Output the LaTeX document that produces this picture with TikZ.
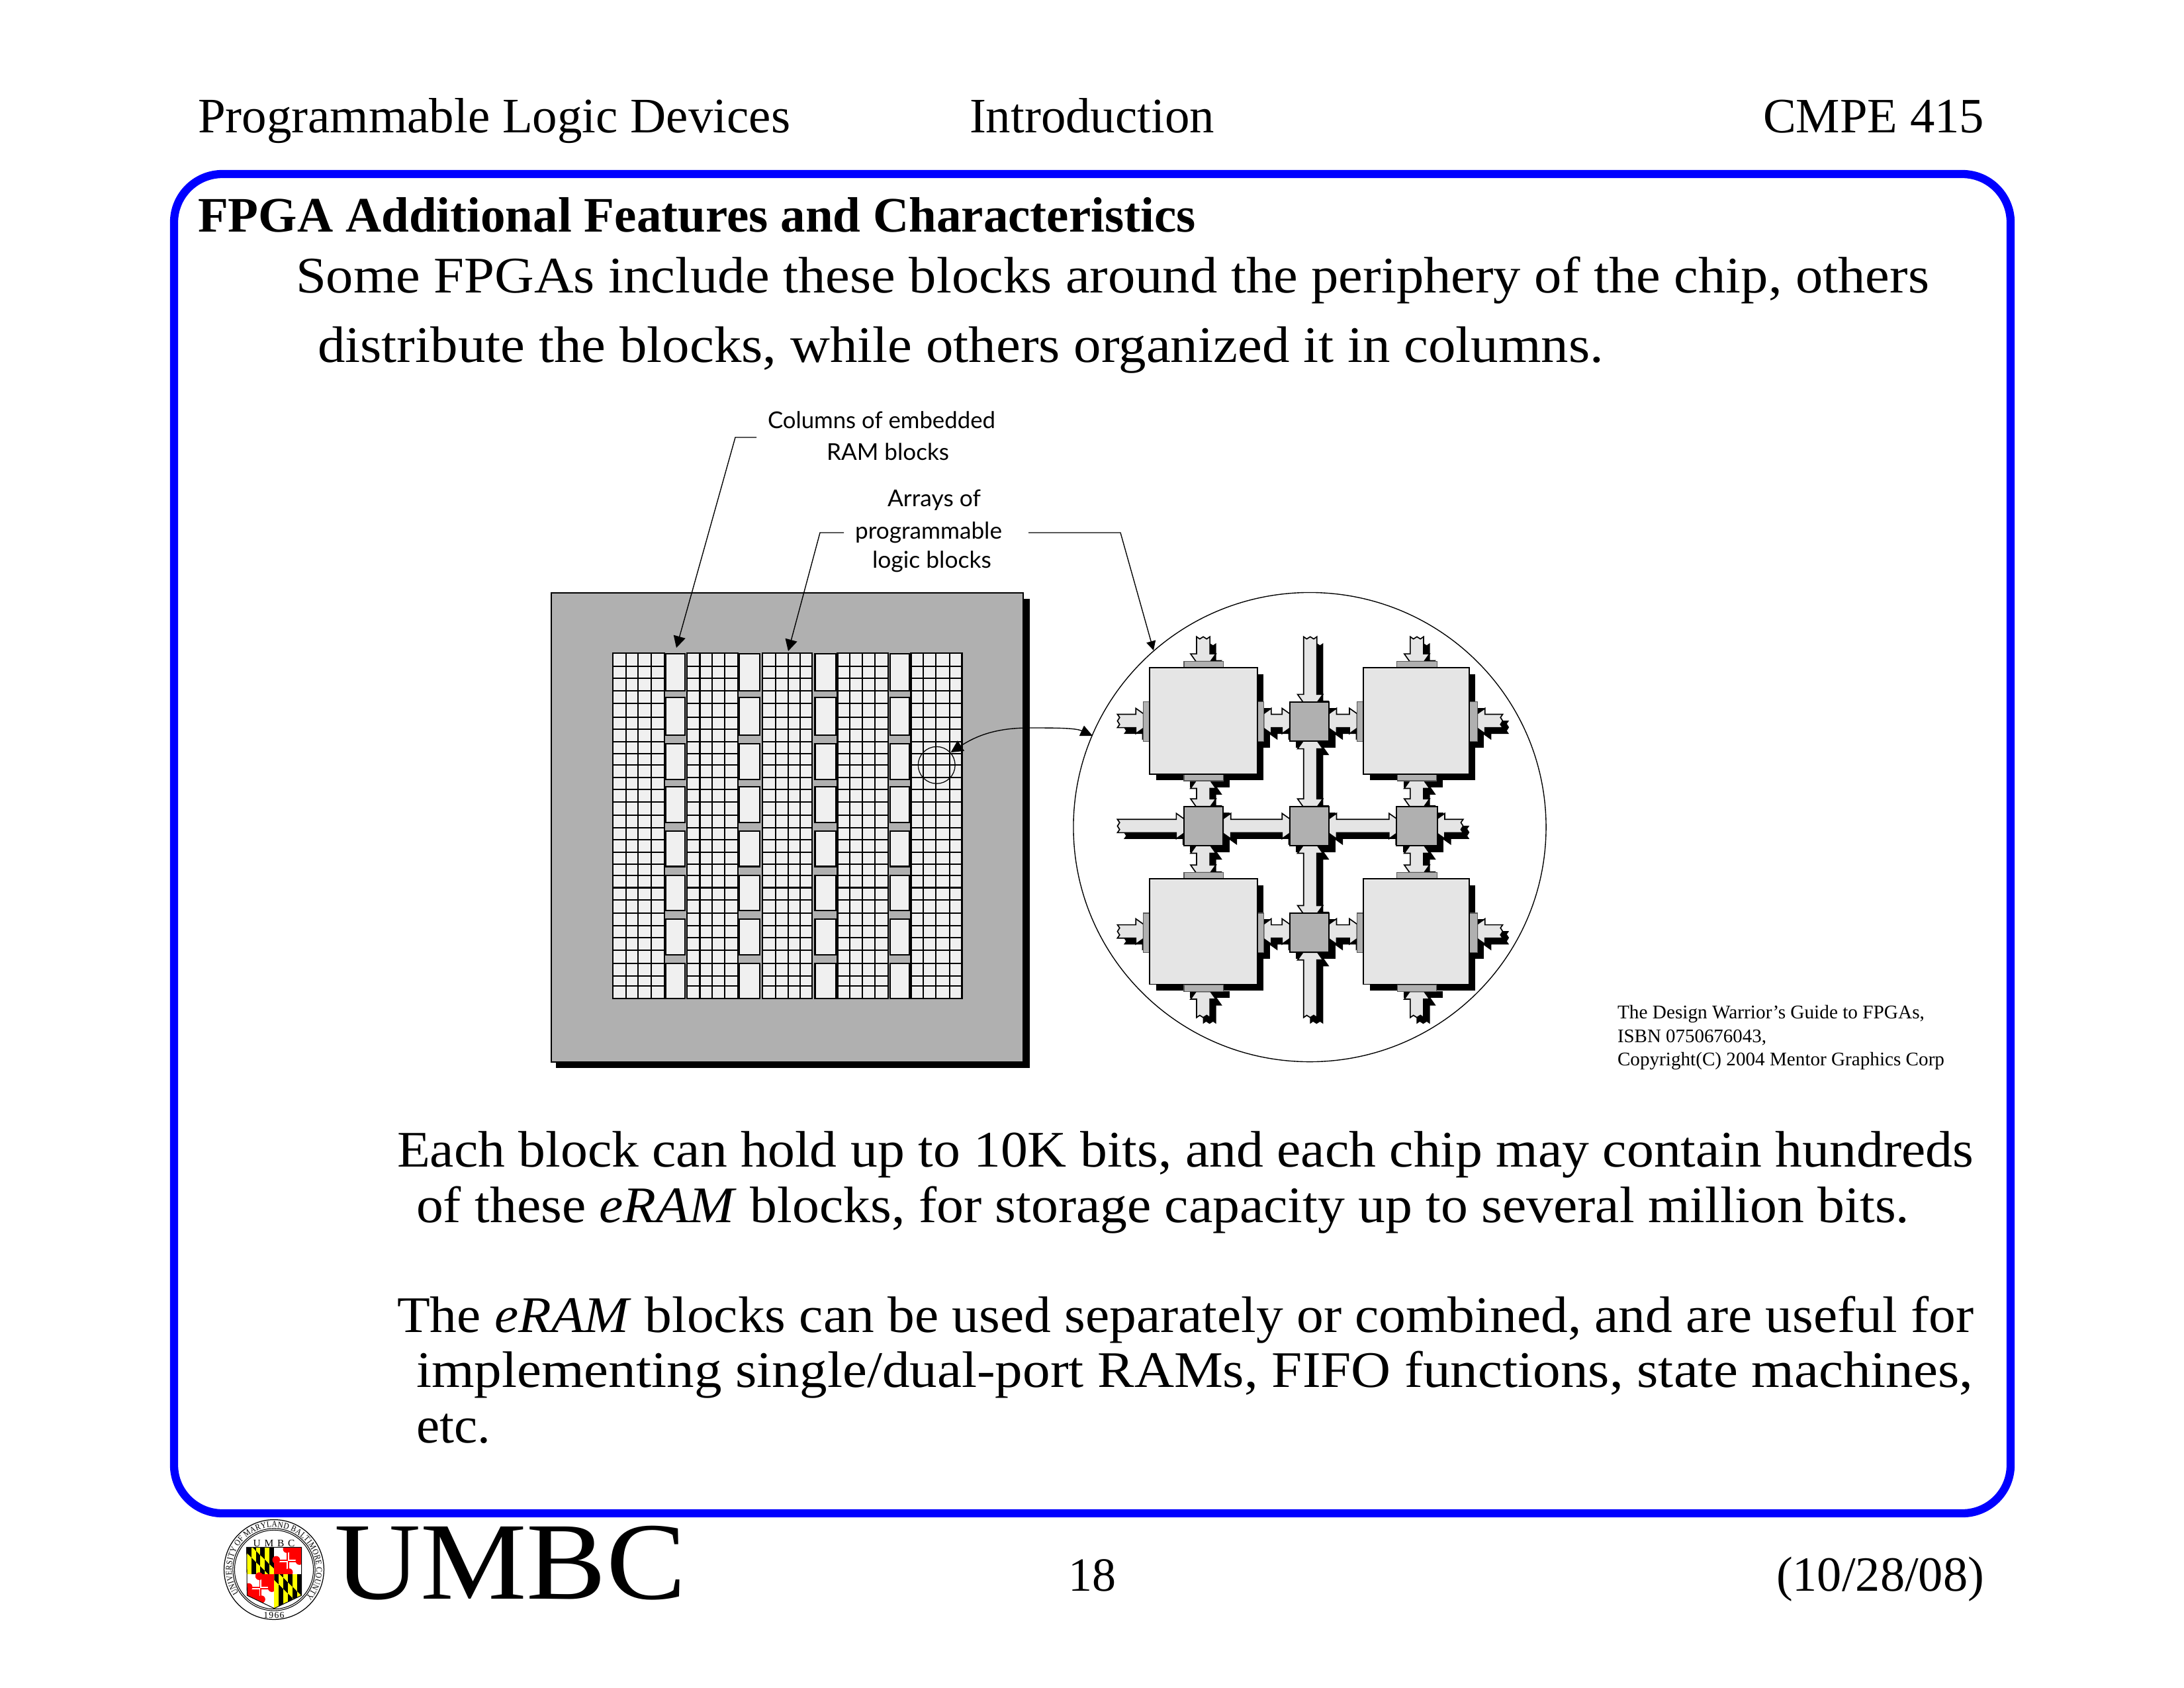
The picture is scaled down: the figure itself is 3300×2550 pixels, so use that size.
\documentclass[tikz,border=0pt]{standalone}
\usepackage{fontspec}
\usepackage{graphicx}
\setmainfont{Liberation Serif}
\newfontfamily\lblfont{Lato}
\usetikzlibrary{arrows.meta}
\newdimen\tw
\newcount\sealpos
% uniform fit to a width in px
\newcommand\ufit[2]{\begingroup\tw=0.24pt\tw=#1\tw\resizebox{\tw}{!}{#2}\endgroup}
% horizontal-only fit to a width in px
\newcommand\sfit[2]{\begingroup\tw=0.24pt\tw=#1\tw\resizebox{\tw}{\height}{#2}\endgroup}
\newcommand\bodyf{\fontsize{18.6}{20}\selectfont}
\newcommand\sealfont{\fontsize{3.1}{4}\selectfont}
\definecolor{frameblue}{HTML}{0000FF}
\definecolor{chipgray}{HTML}{B0B0B0}
\definecolor{celllight}{HTML}{F0F0F0}
\definecolor{blocklight}{HTML}{E5E5E5}
\definecolor{mdyellow}{HTML}{FFFF00}
\definecolor{mdred}{HTML}{FF0000}
\tikzset{
  txt/.style={anchor=base west,inner sep=0pt,outer sep=0pt},
  ctxt/.style={anchor=base,inner sep=0pt,outer sep=0pt},
  frame/.style={draw=frameblue,line width=2.95pt,rounded corners=17.5pt},
  gridline/.style={draw=black,line width=0.5pt},
  ramblock/.style={draw=black,line width=0.5pt,fill=celllight},
  leader/.style={draw=black,line width=0.33pt},
  bigtip/.style={-{Triangle[length=4.2pt,width=4.4pt]}},
  smalltip/.style={-{Triangle[length=3.4pt,width=3.4pt]}},
  arrowshadow/.style={fill=black,shift={(20,20)}},
  arrowfill/.style={fill=blocklight,draw=black,line width=0.4pt,line join=miter},
  lgblock/.style={fill=blocklight,draw=black,line width=0.45pt},
  swblock/.style={fill=chipgray,draw=black,line width=0.45pt},
  padblock/.style={fill=chipgray,draw=black!65,line width=0.3pt},
  shadowblock/.style={fill=black,shift={(20,20)}},
}
\def\ah{21}\def\aH{40}\def\aT{23}\def\aL{24}
% horizontal arrows: style, x1, x2, y
\newcommand\HB[4]{\path[#1] (#2,#4-\aT) -- (#2+\aL,#4-\aH) -- (#2+\aL,#4-\ah) -- (#3-\aL,#4-\ah) -- (#3-\aL,#4-\aH) -- (#3,#4-\aT) -- (#3,#4+\aT) -- (#3-\aL,#4+\aH) -- (#3-\aL,#4+\ah) -- (#2+\aL,#4+\ah) -- (#2+\aL,#4+\aH) -- (#2,#4+\aT) -- cycle;}
\newcommand\HR[4]{\path[#1] (#2,#4-\ah) -- (#3-\aL,#4-\ah) -- (#3-\aL,#4-\aH) -- (#3,#4-\aT) -- (#3,#4+\aT) -- (#3-\aL,#4+\aH) -- (#3-\aL,#4+\ah) -- (#2,#4+\ah) -- (#2+7,#4+11) -- (#2,#4) -- (#2+7,#4-11) -- cycle;}
\newcommand\HL[4]{\path[#1] (#3,#4-\ah) -- (#2+\aL,#4-\ah) -- (#2+\aL,#4-\aH) -- (#2,#4-\aT) -- (#2,#4+\aT) -- (#2+\aL,#4+\aH) -- (#2+\aL,#4+\ah) -- (#3,#4+\ah) -- (#3-7,#4+11) -- (#3,#4) -- (#3-7,#4-11) -- cycle;}
% vertical arrows: style, x, y1, y2
\newcommand\VB[4]{\path[#1] (#2-\aT,#3) -- (#2-\aH,#3+\aL) -- (#2-\ah,#3+\aL) -- (#2-\ah,#4-\aL) -- (#2-\aH,#4-\aL) -- (#2-\aT,#4) -- (#2+\aT,#4) -- (#2+\aH,#4-\aL) -- (#2+\ah,#4-\aL) -- (#2+\ah,#3+\aL) -- (#2+\aH,#3+\aL) -- (#2+\aT,#3) -- cycle;}
\newcommand\VD[4]{\path[#1] (#2-\ah,#3) -- (#2-\ah,#4-\aL) -- (#2-\aH,#4-\aL) -- (#2-\aT,#4) -- (#2+\aT,#4) -- (#2+\aH,#4-\aL) -- (#2+\ah,#4-\aL) -- (#2+\ah,#3) -- (#2+11,#3+7) -- (#2,#3) -- (#2-11,#3+7) -- cycle;}
\newcommand\VU[4]{\path[#1] (#2-\ah,#4) -- (#2-\ah,#3+\aL) -- (#2-\aH,#3+\aL) -- (#2-\aT,#3) -- (#2+\aT,#3) -- (#2+\aH,#3+\aL) -- (#2+\ah,#3+\aL) -- (#2+\ah,#4) -- (#2+11,#4-7) -- (#2,#4) -- (#2-11,#4-7) -- cycle;}
\newcommand\allarrows[1]{%
  \VD{#1}{414}{172}{250}\VD{#1}{1089}{172}{250}\VD{#1}{752}{172}{378}%
  \VB{#1}{414}{627}{708}\VB{#1}{1089}{627}{708}%
  \VB{#1}{414}{832}{917}\VB{#1}{1089}{832}{917}%
  \VB{#1}{752}{502}{708}\VB{#1}{752}{832}{1045}%
  \VU{#1}{414}{1293}{1375}\VU{#1}{1089}{1293}{1375}\VU{#1}{752}{1169}{1375}%
  \HR{#1}{143}{225}{438}\HB{#1}{605}{687}{438}\HB{#1}{811}{900}{438}\HL{#1}{1280}{1360}{438}%
  \HR{#1}{143}{353}{770}\HB{#1}{477}{687}{770}\HB{#1}{811}{1025}{770}\HL{#1}{1153}{1235}{770}%
  \HR{#1}{143}{225}{1103}\HB{#1}{605}{687}{1103}\HB{#1}{811}{900}{1103}\HL{#1}{1280}{1360}{1103}%
}
\newcommand\allpads[1]{%
  \path[#1] (353,250) rectangle (478,270);
  \path[#1] (225,378) rectangle (245,502);
  \path[#1] (585,378) rectangle (605,502);
  \path[#1] (353,606) rectangle (477,627);
  \path[#1] (1025,250) rectangle (1153,270);
  \path[#1] (900,378) rectangle (920,502);
  \path[#1] (1254,378) rectangle (1280,502);
  \path[#1] (1027,606) rectangle (1151,627);
  \path[#1] (353,917) rectangle (477,937);
  \path[#1] (225,1045) rectangle (245,1169);
  \path[#1] (585,1045) rectangle (605,1169);
  \path[#1] (353,1271) rectangle (477,1293);
  \path[#1] (1025,917) rectangle (1153,937);
  \path[#1] (900,1045) rectangle (920,1169);
  \path[#1] (1254,1045) rectangle (1280,1169);
  \path[#1] (1027,1271) rectangle (1151,1293);
}
\newcommand\allblocks[1]{%
  \path[#1] (245,270) rectangle (585,606);
  \path[#1] (920,270) rectangle (1254,606);
  \path[#1] (245,937) rectangle (585,1270);
  \path[#1] (920,937) rectangle (1254,1270);
}
\newcommand\allswitches[1]{%
  \path[#1] (687,378) rectangle (811,502);
  \path[#1] (353,708) rectangle (477,832);
  \path[#1] (687,708) rectangle (811,832);
  \path[#1] (1025,708) rectangle (1153,832);
  \path[#1] (687,1045) rectangle (811,1169);
}
% Calvert quarter: x0,y0,ybottom
\newcommand\Calv[3]{%
  \foreach \i in {0,2,4}{\fill[mdyellow] ({#1+\i*20.8},#2) rectangle ({#1+(\i+1)*20.8},#3);}
  \foreach \i in {1,3,5}{\fill[black] ({#1+\i*20.8},#2) rectangle ({#1+(\i+1)*20.8},#3);}
  \begin{scope}
    \clip (#1,#2-25) -- (#1+125,#2+98) -- (#1+125,#2+148) -- (#1,#2+25) -- cycle;
    \foreach \i in {0,2,4}{\fill[black] ({#1+\i*20.8},#2) rectangle ({#1+(\i+1)*20.8},#3);}
    \foreach \i in {1,3,5}{\fill[mdyellow] ({#1+\i*20.8},#2) rectangle ({#1+(\i+1)*20.8},#3);}
  \end{scope}
}
% Crossland quarter: x0,y0,ybottom
\newcommand\Cross[3]{%
  \fill[white] (#1,#2) rectangle (#1+124,#3);
  \fill[mdred] (#1+62,#2) rectangle (#1+124,#2+62);
  \fill[mdred] (#1,#2+62) rectangle (#1+62,#3);
  \fill[white] (#1+62,#2+62) rectangle (#1+124,#3);
  \fill[mdred] (#1+10,#2+57) rectangle (#1+62,#2+62);
  \fill[white] (#1+10,#2+62) rectangle (#1+62,#2+67);
  \fill[white] (#1+62,#2+57) rectangle (#1+114,#2+62);
  \fill[mdred] (#1+62,#2+62) rectangle (#1+114,#2+67);
  \fill[mdred] (#1+57,#2+10) rectangle (#1+62,#2+62);
  \fill[white] (#1+62,#2+10) rectangle (#1+67,#2+62);
  \fill[white] (#1+57,#2+62) rectangle (#1+62,#2+114);
  \fill[mdred] (#1+62,#2+62) rectangle (#1+67,#2+114);
  \fill[mdred] (#1+57,#2+8) circle (1.4pt);
  \fill[mdred] (#1+9,#2+57) circle (1.4pt);
  \fill[mdred] (#1+114,#2+62) circle (1.4pt);
  \fill[mdred] (#1+67,#2+113) circle (1.4pt);
}
\begin{document}
\begin{tikzpicture}[x=0.24pt,y=-0.24pt]
\useasboundingbox (0,0) rectangle (3300,2550);
\fill[white] (0,0) rectangle (3300,2550);

% header
\node[txt] (hdrL) at (299,200) {\ufit{895}{Programmable Logic Devices}};
\node[txt] (hdrM) at (1465,200) {\ufit{370}{Introduction}};
\node[txt] (hdrR) at (2664,200) {\ufit{334}{CMPE 415}};

% frame
\draw[frame] (263,263) rectangle (3038,2287);

% title and upper text
\node[txt] (title) at (299,350) {\ufit{1508}{\bfseries FPGA Additional Features and Characteristics}};
\node[txt] (l1) at (447,442) {\sfit{2468}{\bodyf Some FPGAs include these blocks around the periphery of the chip, others}};
\node[txt] (l2) at (480,547) {\sfit{1943}{\bodyf distribute the blocks, while others organized it in columns.}};

% lower text
\node[txt] (l3) at (600,1763) {\sfit{2382}{\bodyf Each block can hold up to 10K bits, and each chip may contain hundreds}};
\node[txt] (l4) at (629,1847) {\sfit{2256}{\bodyf of these \textit{eRAM} blocks, for storage capacity up to several million bits.}};
\node[txt] (l5) at (600,2013) {\sfit{2382}{\bodyf The \textit{eRAM} blocks can be used separately or combined, and are useful for}};
\node[txt] (l6) at (629,2096) {\sfit{2352}{\bodyf implementing single/dual-port RAMs, FIFO functions, state machines,}};
\node[txt] (l7) at (629,2180) {\sfit{112}{\bodyf etc.}};

% footer
\node[txt] (pageno) at (1614,2404) {\ufit{72}{18}};
\node[txt] (date) at (2684,2404) {\ufit{314}{(10/28/08)}};
\node[txt] (umbc) at (505,2416) {\sfit{532}{\fontsize{40}{44}\selectfont UMBC}};

% chip
\fill[black] (840,905) rectangle (1556,1614);
\draw[fill=chipgray,draw=black,line width=0.45pt] (833,896) rectangle (1546,1605);
\begin{scope}[shift={(820,880)},x=0.11634pt,y=-0.11634pt]
  \foreach \a/\b in {218/380,449/608,685/839,919/1077,1148/1307}{
    \path[gridline,fill=celllight] (\a,220) rectangle (\b,1297);
    \foreach \y in {262,300,339,377,420,458,497,534,569,608,646,685,726,765,803,842,879,914,952,990,1032,1070,1108,1147,1189,1228,1258}{
      \draw[gridline] (\a,\y) -- (\b,\y);
    }
  }
  \foreach \x in {260,298,338,490,528,567,727,765,802,957,996,1035,1186,1226,1268}{
    \draw[gridline] (\x,220) -- (\x,1297);
  }
  \foreach \l/\r in {384/444,612/676,849/913,1083/1142}{
    \foreach \t/\b in {222/338,358/477,503/614,638/748,776/886,914/1024,1050/1161,1188/1297}{
      \path[ramblock] (\l,\t) rectangle (\r,\b);
    }
  }
  \draw[line width=0.3pt] (1228,570) circle (6.7pt);
\end{scope}

% zoomed circle
\draw[line width=0.33pt,fill=white] (1979,1250) ellipse (85.7pt and 85.1pt);
\begin{scope}[shift={(1620,880)},x=0.1148pt,y=-0.1148pt]
  \allarrows{arrowshadow}
  \allpads{shadowblock}
  \allswitches{shadowblock}
  \allblocks{shadowblock}
  \allarrows{arrowfill}
  \allpads{padblock}
  \allswitches{swblock}
  \allblocks{lgblock}
\end{scope}

% labels
\node[txt] (lblA) at (1160,647) {\sfit{344}{\lblfont\fontsize{8.4}{10}\selectfont Columns of embedded}};
\node[txt] (lblB) at (1249,695) {\sfit{185}{\lblfont\fontsize{8.4}{10}\selectfont RAM blocks}};
\node[txt] (lblC) at (1341,765) {\sfit{141}{\lblfont\fontsize{8.4}{10}\selectfont Arrays of}};
\node[txt] (lblD) at (1292,814) {\sfit{222}{\lblfont\fontsize{8.4}{10}\selectfont programmable}};
\node[txt] (lblE) at (1318,858) {\sfit{180}{\lblfont\fontsize{8.4}{10}\selectfont logic blocks}};

% leaders
\coordinate (startA) at (1143,661);
\coordinate (kneeA) at (1111,661);
\coordinate (tipA) at (1022,979);
\coordinate (startB) at (1275,805);
\coordinate (kneeB) at (1239,805);
\coordinate (tipB) at (1191,984);
\coordinate (startC) at (1554,805);
\coordinate (kneeC) at (1693,805);
\coordinate (tipC) at (1743,983);
\coordinate (tipS) at (1436.6,1137);
\coordinate (tipD) at (1651,1112);
\draw[leader,bigtip] (startA) -- (kneeA) -- (tipA);
\draw[leader,bigtip] (startB) -- (kneeB) -- (tipB);
\draw[leader,smalltip] (startC) -- (kneeC) -- (tipC);
\coordinate (midS) at (1555,1100);
\draw[leader,{Triangle[length=4.4pt,width=4.4pt]}-{Triangle[length=4.4pt,width=4pt]}] (tipS) .. controls (1475,1112) and (1505,1100) .. (midS) .. controls (1595,1100) and (1625,1100) .. (tipD);

% citation
\node[txt] (citeA) at (2444,1539) {\ufit{464}{The Design Warrior’s Guide to FPGAs,}};
\node[txt] (citeB) at (2444,1575) {\ufit{225}{ISBN 0750676043,}};
\node[txt] (citeC) at (2444,1610) {\ufit{494}{Copyright(C) 2004 Mentor Graphics Corp}};

% seal
\draw[line width=0.3pt] (414,2372) circle (18.1pt);
\draw[line width=0.25pt] (414,2372) circle (14.9pt);
\draw[line width=0.25pt] (414,2372) circle (14.3pt);
\global\sealpos=0
\foreach \ch/\w [count=\i from 0] in {U/722,N/722,I/333,V/722,E/611,R/667,S/556,I/333,T/611,Y/722,{}/250,O/722,F/556,{}/250,M/889,A/722,R/667,Y/722,L/611,A/722,N/722,D/722,{}/250,B/667,A/722,L/611,T/611,I/333,M/889,O/722,R/667,E/611,{}/250,C/667,O/722,U/722,N/722,T/611,Y/722}{
  \pgfmathsetmacro{\ang}{214-(\the\numexpr\sealpos/10\relax+\w/20)/2385.3*253}
  \pgfmathsetmacro{\rot}{\ang-90}
  \node[ctxt,rotate=\rot] (seal\i) at ({414+64*cos(\ang)},{2372-64*sin(\ang)}) {\sealfont\scalebox{0.88}[1]{\ch}};
  \global\advance\sealpos by \w\relax
}
\node[ctxt] (sealUMBC) at (414,2337) {\fontsize{3.7}{4}\selectfont U\hspace{1.4pt}M\hspace{1.4pt}B\hspace{1.4pt}C};
\node[ctxt] (sealYear) at (414,2445) {\fontsize{3.3}{4}\selectfont 1\hspace{0.3pt}9\hspace{0.3pt}6\hspace{0.3pt}6};
\begin{scope}[shift={(320,2270)},x=0.08pt,y=-0.08pt]
  \begin{scope}
    \clip (158,205) -- (407,205) -- (407,423) -- (283,482) -- (160,423) -- cycle;
    \Calv{158}{205}{328}
    \Cross{283}{205}{328}
    \Cross{158}{328}{482}
    \Calv{283}{328}{482}
  \end{scope}
  \draw[line width=0.25pt] (158,205) -- (407,205) -- (407,423) -- (283,482) -- (160,423) -- cycle;
\end{scope}
\end{tikzpicture}
\end{document}
